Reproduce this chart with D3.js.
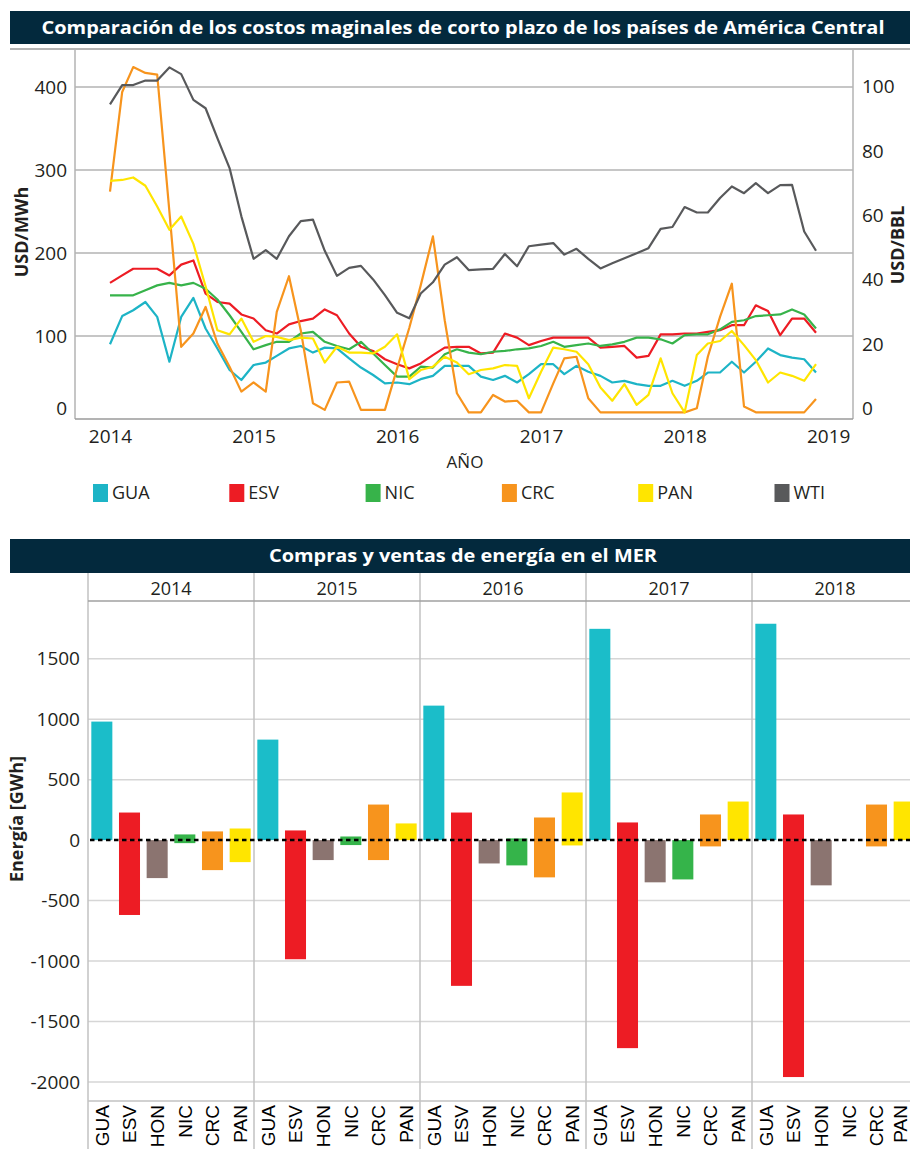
<!DOCTYPE html>
<html><head><meta charset="utf-8">
<script src="https://cdn.jsdelivr.net/npm/d3@7"></script>
<style>
body{margin:0;background:#fff;}
svg{display:block;font-family:"Open Sans",sans-serif;}
</style></head><body>
<svg id="c" width="910" height="1149"></svg>
<script>
// ---------- DATA: top chart (monthly, Jan 2014 – Dec 2018) ----------
const months = [
 "2014-01","2014-02","2014-03","2014-04","2014-05","2014-06","2014-07","2014-08","2014-09","2014-10","2014-11","2014-12",
 "2015-01","2015-02","2015-03","2015-04","2015-05","2015-06","2015-07","2015-08","2015-09","2015-10","2015-11","2015-12",
 "2016-01","2016-02","2016-03","2016-04","2016-05","2016-06","2016-07","2016-08","2016-09","2016-10","2016-11","2016-12",
 "2017-01","2017-02","2017-03","2017-04","2017-05","2017-06","2017-07","2017-08","2017-09","2017-10","2017-11","2017-12",
 "2018-01","2018-02","2018-03","2018-04","2018-05","2018-06","2018-07","2018-08","2018-09","2018-10","2018-11","2018-12"];
const GUA = [90,124,131,141,123,69,123,146,109,85,59,47, 65,68,76,85,88,80,86,85,73,62,53,43,
             44,42,48,52,64,64,64,51,47,52,44,54, 66,66,54,64,57,52,44,46,42,40,40,46,
             40,46,56,56,69,56,69,85,77,74,72,56];
const ESV = [164,173,181,181,181,173,186,191,151,141,139,126, 121,107,103,114,118,121,132,125,103,87,82,72,
             66,61,67,77,86,87,87,79,80,103,98,89, 94,98,98,98,98,86,87,88,74,76,102,102,
             103,103,105,107,113,113,137,130,101,121,121,104];
const NIC = [149,149,149,155,161,164,161,164,157,144,125,105, 84,89,93,93,103,105,93,88,84,93,79,65,
             51,51,63,62,78,84,80,78,81,82,84,85, 88,93,87,89,91,88,90,93,98,98,96,91,
             101,102,102,108,117,119,124,125,126,132,126,109];
const CRC = [274,394,424,417,415,250,87,103,135,91,63,33, 44,33,129,172,107,19,11,44,45,11,11,11,
             61,110,161,220,119,31,8,8,29,21,22,8, 8,43,73,75,25,8,8,8,8,8,8,8,
             8,13,75,123,163,15,8,8,8,8,8,24];
const PAN = [287,288,291,281,256,228,244,211,160,107,102,121, 93,100,99,95,98,97,68,87,80,80,79,87,
             102,48,59,63,75,68,54,59,61,65,64,25, 57,86,84,81,66,38,22,42,17,29,73,31,
             8,77,91,94,106,89,71,44,56,52,46,66];
const WTI = [94.5,100.5,100.5,101.9,101.9,106,103.9,95.9,93.3,84,74.7,59.7,
             46.5,49.2,46.5,53.5,58.2,58.7,49,41.2,43.7,44.3,40.1,35.2,
             29.7,28,35.7,39.2,44.7,47,43,43.2,43.4,48,44.2,50.4,
             50.9,51.4,47.8,49.6,46.5,43.5,45.1,46.7,48.2,49.8,55.8,56.4,
             62.6,60.9,60.9,65.4,69,66.9,70,66.9,69.4,69.5,55,49];
const leftTicks = [0,100,200,300,400];
const rightTicks = [0,20,40,60,80,100];
const yearTicks = ["2014","2015","2016","2017","2018","2019"];

// ---------- DATA: bottom chart ----------
const years = ["2014","2015","2016","2017","2018"];
const countries = ["GUA","ESV","HON","NIC","CRC","PAN"];
const ventas = [            // GUA, ESV, HON, NIC, CRC, PAN
  [980, 228, 0, 47, 72, 96],
  [831, 80, 0, 30, 294, 138],
  [1112, 228, 0, 14, 187, 394],
  [1747, 146, 0, 0, 212, 319],
  [1789, 212, 0, 0, 294, 319]];
const compras = [
  [0, -619, -314, -25, -248, -182],
  [0, -985, -165, -41, -165, 0],
  [0, -1205, -193, -209, -308, -44],
  [0, -1720, -349, -325, -52, 0],
  [0, -1959, -374, 0, -52, 0]];
const energyTicks = [-2000,-1500,-1000,-500,0,500,1000,1500];

// ---------- STYLE ----------
const lineColors = {GUA:"#1db4c6", ESV:"#ed1c24", NIC:"#37b34a", CRC:"#f7941d", PAN:"#ffe500", WTI:"#58595b"};
const barColors = {GUA:"#1bbdc9", ESV:"#ed1c24", HON:"#8b7470", NIC:"#35b44a", CRC:"#f7941d", PAN:"#ffe500"};
const navy = "#03293d";
const textCol = "#231f20";

const svg = d3.select("#c");
const parse = d3.timeParse("%Y-%m");

// ---------- TITLE BARS ----------
function titleBar(y, h, txt, len){
  svg.append("rect").attr("x",10).attr("y",y).attr("width",900).attr("height",h).attr("fill",navy);
  svg.append("text").attr("x",463).attr("y",y+h/2).attr("dy","0.35em")
    .attr("text-anchor","middle").attr("fill","#fff").attr("font-weight","bold")
    .attr("font-size",18).attr("textLength",len).attr("lengthAdjust","spacingAndGlyphs").text(txt);
}
titleBar(11, 33, "Comparación de los costos maginales de corto plazo de los países de América Central", 843);
titleBar(539, 34, "Compras y ventas de energía en el MER", 388);

// ---------- TOP CHART ----------
const L = 75, R = 853, T = 49, B = 419;
const x = d3.scaleTime().domain([parse("2014-01"), parse("2018-12")]).range([110, 816]);
const yL = d3.scaleLinear().domain([0,400]).range([B, 87]);
const yR = d3.scaleLinear().domain([0,100]).range([408.4, 86.7]);

const topG = svg.append("g");
// grid
topG.append("g").selectAll("line").data(leftTicks.filter(d=>d>0)).join("line")
  .attr("x1",L).attr("x2",R).attr("y1",d=>yL(d)).attr("y2",d=>yL(d))
  .attr("stroke","#b3b3b3").attr("stroke-width",1.5);
// frame
topG.append("line").attr("x1",10).attr("x2",910).attr("y1",T).attr("y2",T).attr("stroke","#9a9a9a").attr("stroke-width",1.5);
topG.append("line").attr("x1",L).attr("x2",L).attr("y1",T).attr("y2",B).attr("stroke","#b3b3b3").attr("stroke-width",1.5);
topG.append("line").attr("x1",R).attr("x2",R).attr("y1",T).attr("y2",B).attr("stroke","#b3b3b3").attr("stroke-width",1.5);
topG.append("line").attr("x1",L).attr("x2",R).attr("y1",B).attr("y2",B).attr("stroke","#9a9a9a").attr("stroke-width",1.5);

// axes
const axL = topG.append("g").attr("transform",`translate(${L},0)`)
  .call(d3.axisLeft(yL).tickValues(leftTicks).tickSize(0).tickPadding(8).tickFormat(d=>String(d)));
const axR = topG.append("g").attr("transform",`translate(${R},0)`)
  .call(d3.axisRight(yR).tickValues(rightTicks).tickSize(0).tickPadding(9).tickFormat(d=>String(d)));
const axX = topG.append("g").attr("transform",`translate(0,${B})`)
  .call(d3.axisBottom(x).tickValues(yearTicks.map(y=>parse(y+"-01"))).tickSize(0).tickPadding(11).tickFormat(d3.timeFormat("%Y")));
[axL,axR,axX].forEach(a=>{
  a.select(".domain").remove();
  a.selectAll("text").attr("font-size",19).attr("fill",textCol).attr("font-family","'Open Sans',sans-serif");
});
axL.selectAll(".tick").filter(d=>d===0).select("text").attr("transform","translate(0,-11)");

// lines
const seriesTop = [["GUA",GUA],["ESV",ESV],["NIC",NIC],["CRC",CRC],["PAN",PAN]];
const lineL = d3.line().x((d,i)=>x(parse(months[i]))).y(d=>yL(d));
seriesTop.forEach(([k,v])=>{
  topG.append("path").datum(v).attr("d",lineL).attr("fill","none")
    .attr("stroke",lineColors[k]).attr("stroke-width",2.2).attr("stroke-linejoin","round");
});
const lineR = d3.line().x((d,i)=>x(parse(months[i]))).y(d=>yR(d));
topG.append("path").datum(WTI).attr("d",lineR).attr("fill","none")
  .attr("stroke",lineColors.WTI).attr("stroke-width",2.2).attr("stroke-linejoin","round");

// axis titles
topG.append("text").attr("transform","translate(22,232) rotate(-90)").attr("text-anchor","middle")
  .attr("dy","0.35em").attr("font-weight","bold").attr("font-size",18).attr("fill",textCol).text("USD/MWh");
topG.append("text").attr("transform","translate(898,245) rotate(-90)").attr("text-anchor","middle")
  .attr("dy","0.35em").attr("font-weight","bold").attr("font-size",18).attr("fill",textCol).text("USD/BBL");
topG.append("text").attr("x",465).attr("y",462).attr("dy","0.35em").attr("text-anchor","middle")
  .attr("font-size",17).attr("fill",textCol).text("AÑO");

// legend
const legendKeys = ["GUA","ESV","NIC","CRC","PAN","WTI"];
const lg = topG.append("g").selectAll("g").data(legendKeys).join("g")
  .attr("transform",(d,i)=>`translate(${93 + i*136.3},484)`);
lg.append("rect").attr("width",15).attr("height",18).attr("fill",d=>lineColors[d]);
lg.append("text").attr("x",19).attr("y",9).attr("dy","0.35em").attr("font-size",18).attr("fill",textCol).text(d=>d);

// ---------- BOTTOM CHART ----------
const bot = svg.append("g");
const BL = 88, BR = 910;
const xYear = d3.scaleBand().domain(years).range([BL, BL + 166*5]);
const xC = d3.scaleBand().domain(countries).range([0, xYear.bandwidth()]).paddingInner(0.24).paddingOuter(0.12);
const yB = d3.scaleLinear().domain([-2000,1500]).range([1082, 658.7]);

// grid
bot.append("g").selectAll("line").data(energyTicks.filter(d=>d!==0)).join("line")
  .attr("x1",BL).attr("x2",BR).attr("y1",d=>yB(d)).attr("y2",d=>yB(d))
  .attr("stroke","#d6d6d6").attr("stroke-width",1.5);
// separators
bot.append("g").selectAll("line").data(years).join("line")
  .attr("x1",d=>xYear(d)).attr("x2",d=>xYear(d)).attr("y1",573).attr("y2",1149)
  .attr("stroke","#c2c2c2").attr("stroke-width",1.5);
bot.append("line").attr("x1",BL).attr("x2",BR).attr("y1",601).attr("y2",601).attr("stroke","#a0a0a0").attr("stroke-width",1.5);
bot.append("line").attr("x1",BL).attr("x2",BR).attr("y1",1101).attr("y2",1101).attr("stroke","#c2c2c2").attr("stroke-width",1.5);

// year headers
bot.append("g").selectAll("text").data(years).join("text")
  .attr("x",d=>xYear(d)+xYear.bandwidth()/2).attr("y",589).attr("dy","0.35em")
  .attr("text-anchor","middle").attr("font-size",18).attr("fill",textCol).text(d=>d);

// y axis
const axB = bot.append("g").attr("transform",`translate(${BL},0)`)
  .call(d3.axisLeft(yB).tickValues(energyTicks).tickSize(0).tickPadding(8).tickFormat(d=>String(d)));
axB.select(".domain").remove();
axB.selectAll("text").attr("font-size",19).attr("fill",textCol).attr("font-family","'Open Sans',sans-serif");
bot.append("text").attr("transform","translate(17,819) rotate(-90)").attr("text-anchor","middle")
  .attr("dy","0.35em").attr("font-weight","bold").attr("font-size",18).attr("fill",textCol).text("Energía [GWh]");

// bars
years.forEach((yr, yi)=>{
  const g = bot.append("g").attr("transform",`translate(${xYear(yr)},0)`);
  countries.forEach((c, ci)=>{
    const v = ventas[yi][ci], p = compras[yi][ci];
    if (v > 0) g.append("rect").attr("x",xC(c)).attr("width",xC.bandwidth())
      .attr("y",yB(v)).attr("height",yB(0)-yB(v)).attr("fill",barColors[c]);
    if (p < 0) g.append("rect").attr("x",xC(c)).attr("width",xC.bandwidth())
      .attr("y",yB(0)).attr("height",yB(p)-yB(0)).attr("fill",barColors[c]);
    g.append("text").attr("transform",`translate(${Math.min(xC(c)+xC.bandwidth()/2, 900 - xYear(yr))},1105) rotate(-90)`)
      .attr("text-anchor","end").attr("dy","0.36em")
      .attr("font-family","'Liberation Sans',Arial,sans-serif").attr("font-size",19).attr("fill","#000").text(c);
  });
});
// zero line
bot.append("line").attr("x1",90).attr("x2",BR).attr("y1",yB(0)).attr("y2",yB(0))
  .attr("stroke","#000").attr("stroke-width",2.5).attr("stroke-dasharray","4.5,3.5");
</script>
</body></html>
